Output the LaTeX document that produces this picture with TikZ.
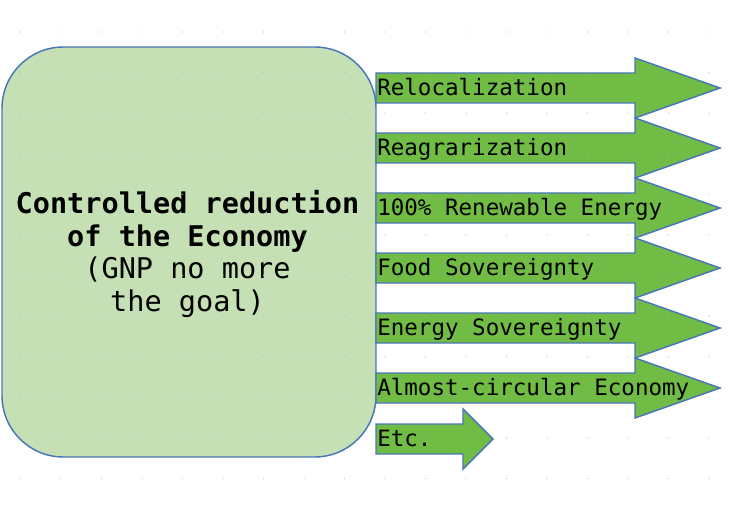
\documentclass[tikz,border=0pt]{standalone}
\usepackage{fontspec}
\setmonofont{DejaVu Sans Mono}
\definecolor{boxgreen}{HTML}{C5E0B4}
\definecolor{arrgreen}{HTML}{70BC44}
\definecolor{edgeblue}{HTML}{4A76B8}
\definecolor{dotgray}{HTML}{B8B8B8}
\tikzset{
  mainbox/.style={draw=edgeblue, line width=1.1pt, fill=boxgreen, rounded corners=46pt,
    minimum width=280.5pt, minimum height=307.5pt, inner sep=0pt},
  boxtext/.style={inner sep=0pt, align=center, text=black,
    font=\ttfamily\fontsize{21.4pt}{24.5pt}\selectfont},
  arrowshape/.style={draw=edgeblue, line width=1.1pt, fill=arrgreen, line join=miter},
  arrowlabel/.style={anchor=base west, inner sep=0pt, text=black,
    font=\ttfamily\fontsize{16.9pt}{20pt}\selectfont},
  griddot/.style={fill=dotgray}
}
\begin{document}
\begin{tikzpicture}[x=0.75pt,y=-0.75pt]
\useasboundingbox (0,0) rectangle (753,506);
\node[mainbox] (eco) at (189,252) {};
\node[boxtext] (ecotext) at (187.5,254) {\textbf{Controlled reduction}\\\textbf{of the Economy}\\(GNP no more\\the goal)};
\foreach \y/\t/\n in {88/Relocalization/a1, 148/Reagrarization/a2, 208/100\% Renewable Energy/a3, 268/Food Sovereignty/a4, 328/Energy Sovereignty/a5, 388/Almost-circular Economy/a6}{
  \draw[arrowshape] (376,{\y-15}) -- (635,{\y-15}) -- (635,{\y-30}) -- (720,\y) -- (635,{\y+30}) -- (635,{\y+15}) -- (376,{\y+15}) -- cycle;
  \node[arrowlabel] (\n) at (377,{\y+7.5}) {\t};
}
\draw[arrowshape] (376,424) -- (463,424) -- (463,409) -- (493,439) -- (463,469) -- (463,454) -- (376,454) -- cycle;
\node[arrowlabel] (a7) at (377,446.5) {Etc.};
\foreach \i in {0,...,17}{
  \foreach \j in {0,...,11}{
    \fill[griddot] ({20.5+40.5*\i},{32+40.6*\j}) circle[radius=0.45pt];
  }
}
\end{tikzpicture}
\end{document}
